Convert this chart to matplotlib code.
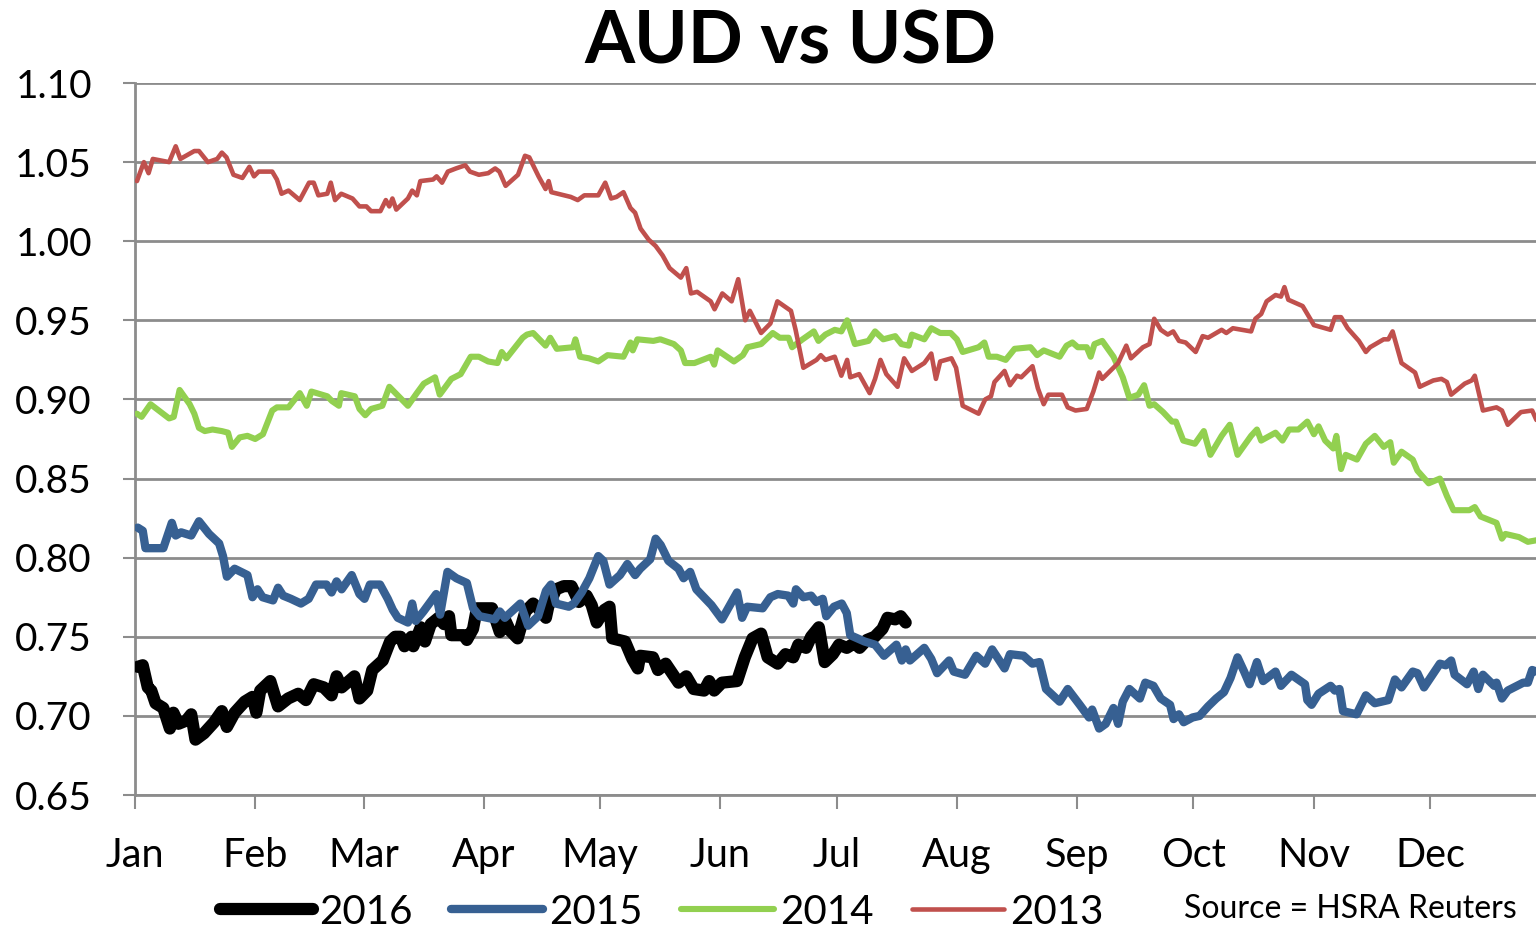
import matplotlib
matplotlib.use("Agg")
import matplotlib.pyplot as plt

# ---- Data (day of year, AUD/USD rate) ----
days_2013 = [0.5, 2.3, 3.5, 4.6, 8.8, 10.5, 11.7, 15.3, 16.5, 18.8, 21.2, 22.4, 23.6, 25.4, 27.7, 29.5,
             30.7, 31.9, 35.4, 36.6, 37.8, 39.6, 42.5, 44.9, 46.1, 47.3, 49.6, 50.5, 51.6, 53.2, 56.1,
             57.9, 59.7, 60.9, 63.3, 64.7, 65.6, 66.4, 67.4, 70.4, 71.5, 72.7, 73.6, 76.9, 77.8, 79.2,
             80.7, 82.8, 85.2, 86.4, 88.7, 91.1, 92.9, 94.0, 95.6, 98.8, 100.6, 101.7, 104.1, 105.9,
             106.7, 107.4, 112.4, 114.2, 115.9, 119.5, 121.3, 122.8, 124.2, 126.0, 127.8, 129.0, 130.4,
             132.5, 134.3, 136.1, 137.9, 140.8, 142.2, 143.4, 145.0, 148.5, 149.5, 151.5, 153.9, 155.6,
             157.4, 158.6, 161.5, 163.9, 165.7, 169.2, 170.4, 172.4, 175.8, 176.9, 178.1, 180.5, 182.2,
             183.7, 184.5, 186.8, 189.5, 190.9, 192.3, 193.8, 196.7, 198.4, 200.4, 203.6, 205.4, 206.6,
             207.7, 210.6, 211.8, 213.5, 217.6, 219.3, 220.8, 221.7, 224.3, 225.7, 227.5, 228.6, 231.5,
             232.9, 234.4, 235.6, 239.1, 240.6, 242.6, 245.5, 247.2, 248.7, 249.5, 253.6, 255.7, 256.9,
             260.0, 261.7, 262.9, 264.6, 266.4, 267.8, 269.3, 271.0, 273.6, 275.4, 276.8, 280.3, 281.5,
             283.2, 287.9, 289.0, 290.5, 291.9, 294.2, 295.6, 296.5, 297.5, 301.2, 304.1, 308.4, 309.5,
             311.1, 312.8, 315.7, 317.5, 318.6, 322.1, 323.3, 324.4, 326.7, 330.2, 331.4, 334.9, 337.0,
             338.4, 339.5, 343.0, 344.8, 345.6, 347.7, 351.2, 352.6, 354.1, 357.5, 360.4, 361.5]
aud_2013 = [1.038, 1.050, 1.043, 1.052, 1.050, 1.060, 1.052, 1.057, 1.057, 1.050, 1.052, 1.056, 1.053,
            1.042, 1.040, 1.047, 1.041, 1.044, 1.044, 1.039, 1.030, 1.032, 1.026, 1.037, 1.037, 1.029,
            1.030, 1.037, 1.026, 1.030, 1.027, 1.022, 1.022, 1.019, 1.019, 1.026, 1.022, 1.027, 1.020,
            1.027, 1.032, 1.029, 1.038, 1.039, 1.041, 1.037, 1.044, 1.046, 1.048, 1.044, 1.042, 1.043,
            1.046, 1.044, 1.035, 1.042, 1.054, 1.053, 1.041, 1.033, 1.038, 1.031, 1.028, 1.026, 1.029,
            1.029, 1.037, 1.027, 1.028, 1.031, 1.021, 1.018, 1.008, 1.001, 0.997, 0.991, 0.983, 0.977,
            0.983, 0.967, 0.968, 0.962, 0.957, 0.967, 0.962, 0.976, 0.950, 0.956, 0.942, 0.948, 0.962,
            0.956, 0.944, 0.920, 0.925, 0.928, 0.925, 0.927, 0.915, 0.925, 0.914, 0.916, 0.904, 0.913,
            0.925, 0.916, 0.908, 0.926, 0.918, 0.923, 0.929, 0.913, 0.924, 0.926, 0.920, 0.896, 0.891,
            0.900, 0.902, 0.911, 0.918, 0.909, 0.915, 0.914, 0.921, 0.907, 0.897, 0.903, 0.903, 0.895,
            0.893, 0.894, 0.905, 0.917, 0.913, 0.923, 0.934, 0.926, 0.933, 0.935, 0.951, 0.944, 0.941,
            0.943, 0.937, 0.936, 0.930, 0.940, 0.939, 0.944, 0.942, 0.945, 0.943, 0.951, 0.954, 0.962,
            0.966, 0.965, 0.971, 0.963, 0.959, 0.947, 0.944, 0.952, 0.952, 0.945, 0.937, 0.930, 0.933,
            0.938, 0.938, 0.943, 0.923, 0.917, 0.908, 0.912, 0.913, 0.911, 0.903, 0.910, 0.912, 0.915,
            0.893, 0.895, 0.893, 0.884, 0.892, 0.893, 0.887]

days_2014 = [0.5, 1.7, 4.0, 8.8, 10.0, 11.5, 14.1, 15.3, 16.5, 18.0, 20.0, 22.4, 24.0, 25.0, 27.0, 29.0,
             31.0, 33.0, 35.4, 36.6, 39.6, 42.5, 44.3, 45.5, 49.6, 50.8, 52.6, 53.2, 56.7, 57.9, 59.4,
             60.9, 63.8, 65.6, 68.0, 70.4, 72.7, 74.5, 77.4, 78.6, 81.6, 84.0, 86.6, 88.7, 91.1, 93.5,
             94.6, 95.8, 100.0, 101.1, 102.7, 105.9, 107.1, 108.8, 113.0, 113.6, 114.8, 117.1, 119.5,
             121.9, 126.0, 127.8, 128.4, 129.6, 133.7, 135.5, 139.0, 140.8, 141.9, 144.3, 148.5, 149.4,
             150.3, 154.5, 156.8, 158.0, 161.5, 164.5, 166.3, 168.6, 169.5, 172.2, 175.1, 176.3, 178.1,
             180.5, 182.2, 183.7, 185.7, 189.2, 190.9, 193.0, 196.1, 197.7, 199.6, 200.4, 203.6, 205.4,
             207.7, 210.4, 212.0, 213.5, 217.6, 219.1, 220.2, 222.3, 224.6, 226.9, 231.0, 232.7, 234.4,
             238.5, 240.3, 241.8, 243.2, 245.5, 246.5, 247.5, 249.5, 252.4, 254.8, 256.5, 258.8, 260.3,
             261.7, 262.9, 265.2, 267.5, 268.5, 270.4, 273.4, 275.7, 277.4, 280.3, 282.4, 284.4, 287.9,
             289.4, 290.5, 294.2, 296.0, 297.7, 300.1, 302.4, 304.1, 305.3, 307.0, 309.1, 309.9, 311.1,
             312.3, 315.2, 317.5, 319.8, 322.1, 323.8, 324.7, 326.7, 329.6, 330.8, 333.7, 336.6, 338.4,
             340.1, 344.2, 345.6, 347.1, 351.2, 352.6, 353.5, 357.0, 359.3, 361.5]
aud_2014 = [0.891, 0.889, 0.897, 0.888, 0.889, 0.906, 0.897, 0.891, 0.882, 0.880, 0.881, 0.880, 0.879,
            0.870, 0.876, 0.877, 0.875, 0.878, 0.893, 0.895, 0.895, 0.904, 0.896, 0.905, 0.902, 0.899,
            0.896, 0.904, 0.902, 0.894, 0.890, 0.894, 0.896, 0.908, 0.902, 0.896, 0.904, 0.910, 0.914,
            0.903, 0.913, 0.916, 0.927, 0.927, 0.924, 0.923, 0.930, 0.926, 0.939, 0.941, 0.942, 0.934,
            0.939, 0.932, 0.933, 0.938, 0.927, 0.926, 0.924, 0.928, 0.927, 0.936, 0.931, 0.938, 0.937,
            0.938, 0.935, 0.931, 0.923, 0.923, 0.927, 0.922, 0.931, 0.924, 0.928, 0.933, 0.935, 0.942,
            0.939, 0.939, 0.933, 0.938, 0.943, 0.937, 0.941, 0.944, 0.943, 0.950, 0.935, 0.937, 0.943,
            0.938, 0.940, 0.935, 0.934, 0.941, 0.938, 0.945, 0.942, 0.942, 0.938, 0.930, 0.933, 0.936,
            0.927, 0.927, 0.925, 0.932, 0.933, 0.928, 0.931, 0.927, 0.934, 0.936, 0.933, 0.933, 0.927,
            0.935, 0.937, 0.927, 0.914, 0.901, 0.903, 0.909, 0.896, 0.897, 0.892, 0.886, 0.886, 0.874,
            0.872, 0.880, 0.865, 0.877, 0.884, 0.865, 0.877, 0.881, 0.874, 0.879, 0.874, 0.881, 0.881,
            0.886, 0.878, 0.883, 0.874, 0.869, 0.877, 0.856, 0.865, 0.862, 0.872, 0.877, 0.870, 0.873,
            0.860, 0.867, 0.862, 0.855, 0.847, 0.850, 0.839, 0.830, 0.830, 0.832, 0.826, 0.822, 0.812,
            0.815, 0.813, 0.810, 0.811]

days_2015 = [0.7, 2.0, 2.7, 7.3, 9.5, 10.5, 11.9, 14.5, 16.5, 19.1, 21.7, 22.7, 23.7, 25.7, 29.0, 30.3,
             31.6, 32.9, 35.6, 36.9, 38.2, 40.2, 42.8, 44.8, 46.7, 49.4, 50.7, 52.0, 53.3, 55.9, 57.9,
             59.2, 60.6, 63.2, 65.2, 66.5, 67.8, 70.4, 71.5, 72.4, 74.4, 77.7, 78.7, 80.6, 82.9, 85.6,
             87.2, 88.9, 92.8, 94.1, 95.4, 99.4, 101.4, 104.0, 106.0, 107.3, 108.6, 111.9, 113.2, 115.2,
             117.2, 119.5, 120.8, 122.4, 125.1, 127.0, 129.0, 130.3, 132.9, 134.3, 135.6, 137.6, 140.2,
             141.5, 143.2, 144.8, 148.7, 151.4, 155.3, 156.6, 157.9, 161.9, 163.9, 165.8, 168.5, 169.8,
             170.5, 172.4, 174.4, 175.7, 177.4, 178.3, 180.3, 182.3, 183.6, 184.5, 188.2, 190.9, 193.2,
             196.4, 197.8, 198.8, 199.9, 203.6, 205.4, 206.9, 210.0, 211.2, 214.1, 217.0, 219.3, 221.1,
             224.3, 225.7, 229.2, 231.5, 233.3, 235.0, 238.5, 240.6, 243.7, 246.1, 246.9, 248.7, 250.4,
             252.4, 253.6, 254.8, 256.5, 259.2, 260.6, 262.7, 264.6, 267.0, 267.9, 269.3, 270.5, 272.8,
             274.6, 276.8, 278.9, 280.9, 282.6, 284.4, 286.1, 287.5, 289.4, 291.0, 294.2, 295.6, 298.3,
             301.8, 302.4, 303.5, 305.3, 308.4, 309.5, 310.7, 311.6, 315.1, 317.5, 319.8, 323.3, 325.0,
             326.7, 329.6, 330.8, 332.5, 336.6, 338.1, 339.5, 340.4, 343.6, 345.3, 346.5, 347.7, 350.6,
             351.2, 352.6, 354.1, 358.1, 359.3, 360.4, 361.5]
aud_2015 = [0.819, 0.817, 0.806, 0.806, 0.822, 0.814, 0.816, 0.814, 0.823, 0.815, 0.809, 0.801, 0.788,
            0.793, 0.789, 0.775, 0.780, 0.775, 0.773, 0.781, 0.776, 0.774, 0.771, 0.774, 0.783, 0.783,
            0.778, 0.785, 0.780, 0.789, 0.777, 0.774, 0.783, 0.783, 0.774, 0.767, 0.762, 0.759, 0.771,
            0.760, 0.766, 0.777, 0.764, 0.791, 0.787, 0.784, 0.768, 0.763, 0.761, 0.766, 0.762, 0.771,
            0.757, 0.763, 0.779, 0.783, 0.771, 0.769, 0.771, 0.778, 0.787, 0.801, 0.798, 0.783, 0.789,
            0.796, 0.789, 0.793, 0.799, 0.812, 0.808, 0.798, 0.793, 0.787, 0.791, 0.780, 0.770, 0.761,
            0.778, 0.762, 0.769, 0.768, 0.775, 0.777, 0.776, 0.771, 0.780, 0.775, 0.776, 0.772, 0.774,
            0.763, 0.769, 0.771, 0.765, 0.751, 0.747, 0.745, 0.738, 0.745, 0.735, 0.742, 0.735, 0.743,
            0.736, 0.727, 0.735, 0.728, 0.726, 0.738, 0.733, 0.742, 0.730, 0.739, 0.738, 0.733, 0.734,
            0.717, 0.709, 0.717, 0.707, 0.699, 0.704, 0.692, 0.695, 0.705, 0.695, 0.709, 0.717, 0.711,
            0.721, 0.719, 0.711, 0.707, 0.698, 0.701, 0.696, 0.699, 0.700, 0.706, 0.711, 0.715, 0.724,
            0.737, 0.728, 0.720, 0.734, 0.722, 0.728, 0.719, 0.726, 0.720, 0.710, 0.707, 0.714, 0.719,
            0.716, 0.717, 0.703, 0.701, 0.713, 0.708, 0.710, 0.723, 0.718, 0.728, 0.727, 0.718, 0.733,
            0.732, 0.735, 0.726, 0.720, 0.728, 0.717, 0.726, 0.719, 0.721, 0.711, 0.716, 0.721, 0.721,
            0.729, 0.728]

days_2016 = [0.7, 2.0, 3.3, 4.2, 5.3, 7.3, 9.0, 9.9, 11.2, 13.2, 14.5, 15.6, 17.8, 20.4, 22.4, 23.7,
             25.7, 28.3, 30.3, 31.3, 32.3, 34.9, 36.9, 39.5, 42.1, 44.1, 46.1, 48.7, 50.7, 52.0, 53.3,
             56.6, 57.9, 59.9, 61.2, 63.9, 65.8, 67.1, 68.5, 69.5, 71.3, 71.8, 73.7, 74.8, 76.3, 78.3,
             79.7, 81.0, 81.6, 84.9, 85.6, 87.2, 88.2, 92.1, 94.1, 95.4, 96.7, 98.7, 100.7, 102.7, 104.0,
             106.0, 106.6, 108.6, 110.6, 112.6, 114.5, 116.5, 117.8, 119.1, 121.1, 122.4, 123.1, 126.4,
             128.3, 129.7, 130.3, 133.6, 134.9, 136.9, 140.2, 142.2, 144.1, 146.8, 148.1, 149.4, 151.4,
             155.3, 157.3, 159.3, 161.5, 163.2, 165.8, 167.8, 169.8, 171.1, 173.1, 174.4, 176.4, 177.9,
             180.0, 181.6, 183.6, 185.6, 186.9, 188.8, 190.8, 192.8, 194.1, 196.1, 197.5, 198.8]
aud_2016 = [0.731, 0.732, 0.718, 0.716, 0.708, 0.705, 0.692, 0.702, 0.695, 0.697, 0.701, 0.685, 0.689,
            0.696, 0.703, 0.693, 0.702, 0.709, 0.712, 0.702, 0.716, 0.722, 0.706, 0.711, 0.714, 0.710,
            0.720, 0.718, 0.713, 0.725, 0.718, 0.725, 0.711, 0.716, 0.729, 0.735, 0.747, 0.750, 0.750,
            0.744, 0.750, 0.744, 0.756, 0.747, 0.758, 0.762, 0.758, 0.763, 0.751, 0.751, 0.748, 0.755,
            0.768, 0.768, 0.753, 0.761, 0.754, 0.749, 0.766, 0.771, 0.768, 0.762, 0.769, 0.780, 0.782,
            0.782, 0.772, 0.776, 0.770, 0.759, 0.767, 0.769, 0.749, 0.747, 0.736, 0.730, 0.738, 0.737,
            0.729, 0.733, 0.721, 0.725, 0.717, 0.716, 0.722, 0.716, 0.721, 0.722, 0.737, 0.749, 0.752,
            0.737, 0.733, 0.739, 0.737, 0.745, 0.743, 0.750, 0.756, 0.734, 0.739, 0.745, 0.743, 0.746,
            0.743, 0.748, 0.750, 0.755, 0.762, 0.761, 0.763, 0.759]

month_starts = [0, 31, 59, 90, 120, 151, 181, 212, 243, 273, 304, 334]
month_labels = ["Jan", "Feb", "Mar", "Apr", "May", "Jun", "Jul", "Aug", "Sep", "Oct", "Nov", "Dec"]
y_ticks = [0.65, 0.70, 0.75, 0.80, 0.85, 0.90, 0.95, 1.00, 1.05, 1.10]

plt.rcParams['font.family'] = ['Lato', 'DejaVu Sans']

fig = plt.figure(figsize=(15.36, 9.33), dpi=100)
W, H = 1536, 933
ax = fig.add_axes([135 / W, 1 - 795 / H, (1550 - 135) / W, 712 / H])
ax.set_xlim(0, 365)
ax.set_ylim(0.65, 1.10)

# Excel series order: 2016 first, 2013 last (on top)
style = dict(solid_joinstyle="round", solid_capstyle="round")
l16, = ax.plot(days_2016, aud_2016, color="black", lw=8.8, zorder=3, **style)
l15, = ax.plot(days_2015, aud_2015, color="#376092", lw=6.0, zorder=4, **style)
l14, = ax.plot(days_2014, aud_2014, color="#92D050", lw=4.4, zorder=5, **style)
l13, = ax.plot(days_2013, aud_2013, color="#C0504D", lw=3.3, zorder=6, **style)

ax.set_yticks(y_ticks)
ax.set_yticklabels([f"{v:.2f}" for v in y_ticks], fontsize=28)
ax.yaxis.grid(True, color="#8c8c8c", lw=2)
ax.set_axisbelow(True)

ax.set_xticks(month_starts)
ax.set_xticklabels(month_labels, fontsize=28.5)
ax.tick_params(axis="x", length=10, width=1.5, color="#8c8c8c", pad=20)
ax.tick_params(axis="y", length=9, width=1.5, color="#8c8c8c", pad=22)

for s in ["top", "right"]:
    ax.spines[s].set_visible(False)
ax.spines["left"].set_color("#8c8c8c")
ax.spines["left"].set_linewidth(2)
ax.spines["bottom"].set_color("#8c8c8c")
ax.spines["bottom"].set_linewidth(2)

fig.text(790 / W, 1 - 43 / H, "AUD vs USD", fontsize=52, fontweight="bold",
         ha="center", va="center")

# ---- Legend ----
handles = [l16, l15, l14, l13]
labels = ["2016", "2015", "2014", "2013"]
fig.legend(handles, labels, loc="center", bbox_to_anchor=(662 / W, 1 - 912 / H), ncol=4,
           frameon=False, fontsize=29, handlelength=2.3, handletextpad=0.15,
           columnspacing=0.95, borderaxespad=0)

fig.text(1517 / W, 1 - 909 / H, "Source = HSRA Reuters", fontsize=23, ha="right", va="center")

fig.savefig("out.png", dpi=100)
